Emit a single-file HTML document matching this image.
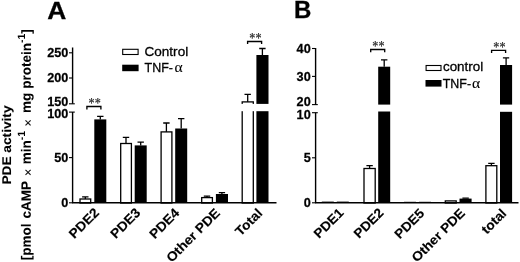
<!DOCTYPE html><html><head><meta charset="utf-8"><title>PDE activity</title>
<style>html,body{margin:0;padding:0;background:#fff}svg{display:block;filter:blur(0.32px)}text{font-family:"Liberation Sans", Arial, Helvetica, sans-serif;fill:#000;stroke:#000;stroke-width:0.3px}.b{font-weight:bold;stroke-width:0.1px}</style></head><body>
<svg width="520" height="262" viewBox="0 0 520 262">
<rect width="520" height="262" fill="#fff"/>
<path d="M85.3 199.0V196.9M82.1 196.9H88.5" stroke="#000" stroke-width="1.30" fill="none"/><rect x="80.0" y="199.0" width="10.7" height="4.0" fill="#fff" stroke="#000" stroke-width="1.30"/>
<path d="M100.3 119.4V116.3M97.1 116.3H103.5" stroke="#000" stroke-width="1.30" fill="none"/><rect x="94.3" y="119.4" width="12.0" height="83.6" fill="#000"/>
<path d="M126.0 143.5V137.4M122.8 137.4H129.2" stroke="#000" stroke-width="1.30" fill="none"/><rect x="120.7" y="143.5" width="10.7" height="59.5" fill="#fff" stroke="#000" stroke-width="1.30"/>
<path d="M140.7 145.4V142.1M137.5 142.1H143.9" stroke="#000" stroke-width="1.30" fill="none"/><rect x="134.7" y="145.4" width="12.0" height="57.6" fill="#000"/>
<path d="M166.4 131.9V123.0M163.2 123.0H169.6" stroke="#000" stroke-width="1.30" fill="none"/><rect x="161.1" y="131.9" width="10.8" height="71.1" fill="#fff" stroke="#000" stroke-width="1.30"/>
<path d="M181.2 128.5V118.7M178.0 118.7H184.4" stroke="#000" stroke-width="1.30" fill="none"/><rect x="175.2" y="128.5" width="12.0" height="74.5" fill="#000"/>
<path d="M207.0 197.6V196.2M203.8 196.2H210.2" stroke="#000" stroke-width="1.30" fill="none"/><rect x="201.7" y="197.6" width="10.7" height="5.4" fill="#fff" stroke="#000" stroke-width="1.30"/>
<path d="M221.9 194.0V192.6M218.8 192.6H225.1" stroke="#000" stroke-width="1.30" fill="none"/><rect x="215.9" y="194.0" width="12.1" height="9.0" fill="#000"/>
<path d="M247.7 101.9V94.4M244.5 94.4H250.9" stroke="#000" stroke-width="1.30" fill="none"/><rect x="242.2" y="101.9" width="11.1" height="101.1" fill="#fff" stroke="#000" stroke-width="1.30"/><rect x="240.5" y="103.9" width="14.4" height="7.3" fill="#fff"/>
<path d="M262.4 55.0V48.5M259.2 48.5H265.6" stroke="#000" stroke-width="1.30" fill="none"/><rect x="256.4" y="55.0" width="12.1" height="148.0" fill="#000"/><rect x="255.4" y="103.9" width="14.1" height="7.3" fill="#fff"/>
<path d="M72.6 47.5V103.8M72.6 112.1V203.0" stroke="#000" stroke-width="1.4" fill="none"/>
<path d="M72.0 202.8H276.5" stroke="#000" stroke-width="1.5" fill="none"/>
<path d="M69.0 52.8H72.6" stroke="#000" stroke-width="1.1"/>
<text class="b" transform="translate(68.3 57.1) scale(0.95 1)" font-size="13.33" text-anchor="end" style="stroke-width:0.25px">250</text>
<path d="M69.0 78.0H72.6" stroke="#000" stroke-width="1.1"/>
<text class="b" transform="translate(68.3 82.2) scale(0.95 1)" font-size="13.33" text-anchor="end" style="stroke-width:0.25px">200</text>
<path d="M69.0 103.8H74.8" stroke="#000" stroke-width="1.1"/>
<text class="b" transform="translate(68.3 105.9) scale(0.95 1)" font-size="13.33" text-anchor="end" style="stroke-width:0.25px">150</text>
<path d="M69.0 112.1H74.8" stroke="#000" stroke-width="1.1"/>
<text class="b" transform="translate(68.3 118.1) scale(0.95 1)" font-size="13.33" text-anchor="end" style="stroke-width:0.25px">100</text>
<path d="M69.0 157.6H72.6" stroke="#000" stroke-width="1.1"/>
<text class="b" transform="translate(68.3 161.7) scale(0.95 1)" font-size="13.33" text-anchor="end" style="stroke-width:0.25px">50</text>
<path d="M69.0 202.8H72.6" stroke="#000" stroke-width="1.1"/>
<text class="b" transform="translate(68.3 207.1) scale(0.95 1)" font-size="13.33" text-anchor="end" style="stroke-width:0.25px">0</text>
<rect x="321.8" y="201.6" width="12.0" height="1.4" fill="#000"/>
<rect x="336.8" y="201.6" width="12.0" height="1.4" fill="#000"/>
<path d="M369.6 168.5V165.7M366.4 165.7H372.8" stroke="#000" stroke-width="1.30" fill="none"/><rect x="364.0" y="168.5" width="11.2" height="34.5" fill="#fff" stroke="#000" stroke-width="1.30"/>
<path d="M384.2 66.7V59.9M381.0 59.9H387.4" stroke="#000" stroke-width="1.30" fill="none"/><rect x="378.2" y="66.7" width="12.0" height="136.3" fill="#000"/><rect x="377.2" y="104.6" width="14.0" height="6.9" fill="#fff"/>
<rect x="404.0" y="201.8" width="12.0" height="1.2" fill="#000"/>
<rect x="419.0" y="201.8" width="12.0" height="1.2" fill="#000"/>
<rect x="445.3" y="200.9" width="10.9" height="2.1" fill="#fff" stroke="#000" stroke-width="1.30"/>
<path d="M465.6 198.6V198.1M462.4 198.1H468.8" stroke="#000" stroke-width="1.30" fill="none"/><rect x="459.5" y="198.6" width="12.1" height="4.4" fill="#000"/>
<path d="M491.4 165.7V163.4M488.2 163.4H494.6" stroke="#000" stroke-width="1.30" fill="none"/><rect x="485.9" y="165.7" width="10.9" height="37.3" fill="#fff" stroke="#000" stroke-width="1.30"/>
<path d="M506.1 65.0V57.9M502.9 57.9H509.2" stroke="#000" stroke-width="1.30" fill="none"/><rect x="500.0" y="65.0" width="12.1" height="138.0" fill="#000"/><rect x="499.0" y="104.6" width="14.1" height="7.2" fill="#fff"/>
<path d="M315.6 48.0V104.6M315.6 112.7V203.0" stroke="#000" stroke-width="1.4" fill="none"/>
<path d="M315.0 202.8H518.5" stroke="#000" stroke-width="1.5" fill="none"/>
<path d="M312.0 48.5H315.6" stroke="#000" stroke-width="1.1"/>
<text class="b" transform="translate(310.7 53.3) scale(0.95 1)" font-size="13.33" text-anchor="end" style="stroke-width:0.25px">40</text>
<path d="M312.0 76.4H315.6" stroke="#000" stroke-width="1.1"/>
<text class="b" transform="translate(310.7 80.7) scale(0.95 1)" font-size="13.33" text-anchor="end" style="stroke-width:0.25px">30</text>
<path d="M312.0 104.6H317.8" stroke="#000" stroke-width="1.1"/>
<text class="b" transform="translate(310.7 106.2) scale(0.95 1)" font-size="13.33" text-anchor="end" style="stroke-width:0.25px">20</text>
<path d="M312.0 112.7H317.8" stroke="#000" stroke-width="1.1"/>
<text class="b" transform="translate(310.7 118.7) scale(0.95 1)" font-size="13.33" text-anchor="end" style="stroke-width:0.25px">10</text>
<path d="M312.0 157.8H315.6" stroke="#000" stroke-width="1.1"/>
<text class="b" transform="translate(310.7 162.1) scale(0.95 1)" font-size="13.33" text-anchor="end" style="stroke-width:0.25px">5</text>
<path d="M312.0 202.8H315.6" stroke="#000" stroke-width="1.1"/>
<text class="b" transform="translate(310.7 207.1) scale(0.95 1)" font-size="13.33" text-anchor="end" style="stroke-width:0.25px">0</text>
<path d="M86.9 109.6V106.5H100.9V109.6" stroke="#000" stroke-width="1.35" fill="none"/>
<text transform="translate(94.8 108.2) scale(0.95 1.1)" font-size="12.8" letter-spacing="0.3" text-anchor="middle" style="font-family:'Liberation Serif',serif;fill:#222;stroke:#222;stroke-width:0.2px">**</text>
<path d="M247.6 44.0V41.5H261.6V44.0" stroke="#000" stroke-width="1.35" fill="none"/>
<text transform="translate(255.5 43.2) scale(0.95 1.1)" font-size="12.8" letter-spacing="0.3" text-anchor="middle" style="font-family:'Liberation Serif',serif;fill:#222;stroke:#222;stroke-width:0.2px">**</text>
<path d="M370.7 52.3V49.5H384.7V52.3" stroke="#000" stroke-width="1.35" fill="none"/>
<text transform="translate(378.6 51.2) scale(0.95 1.1)" font-size="12.8" letter-spacing="0.3" text-anchor="middle" style="font-family:'Liberation Serif',serif;fill:#222;stroke:#222;stroke-width:0.2px">**</text>
<path d="M491.6 53.0V50.3H505.6V53.0" stroke="#000" stroke-width="1.35" fill="none"/>
<text transform="translate(499.5 52.0) scale(0.95 1.1)" font-size="12.8" letter-spacing="0.3" text-anchor="middle" style="font-family:'Liberation Serif',serif;fill:#222;stroke:#222;stroke-width:0.2px">**</text>
<text class="b" transform="translate(56.7 18.7) scale(1.1 1)" text-anchor="middle" font-size="24" style="stroke-width:0.3px">A</text>
<text class="b" x="294.0" y="17.9" font-size="24" style="stroke-width:0.3px">B</text>
<rect x="122.7" y="49.3" width="15.4" height="5.2" fill="#fff" stroke="#000" stroke-width="1.1"/>
<rect x="122.2" y="64.7" width="16.4" height="6.5" fill="#000"/>
<text x="144.5" y="56.3" font-size="13.55">Control</text>
<text transform="translate(144.6 72.0) scale(0.93 1)" font-size="13.4">TNF-</text>
<text x="174.6" y="72.0" font-size="15.5" style="font-family:'Liberation Serif',serif;stroke-width:0.1px">α</text>
<rect x="426.1" y="65.5" width="14.9" height="5.0" fill="#fff" stroke="#000" stroke-width="1.1"/>
<rect x="425.5" y="80.0" width="16.0" height="6.6" fill="#000"/>
<text x="442.9" y="71.4" font-size="13.4" letter-spacing="0.04">control</text>
<text transform="translate(442.7 87.5) scale(0.93 1)" font-size="13.4">TNF-</text>
<text x="472.0" y="87.5" font-size="15.5" style="font-family:'Liberation Serif',serif;stroke-width:0.1px">α</text>
<text class="b" transform="translate(10.9 184.6) rotate(-89.95) scale(1 0.92)" font-size="13.7">PDE activity</text>
<text class="b" transform="translate(30.7 260.2) rotate(-89.95)" font-size="13.5">[pmol <tspan dx="1.2">cAMP </tspan><tspan font-weight="normal" font-size="12.6" dy="1.5" dx="1.60" style="stroke-width:0.12px">×</tspan><tspan dy="-1.5" dx="0.53"> min</tspan><tspan font-size="10.5" dy="-5.8" dx="0.00" style="stroke-width:0">-1</tspan><tspan dy="5.8"> </tspan><tspan font-weight="normal" font-size="12.6" dy="1.5" dx="0.55" style="stroke-width:0.12px">×</tspan><tspan dy="-1.5" dx="2.58"> mg </tspan><tspan dx="0.20" >protein</tspan><tspan font-size="10.5" dy="-5.8" dx="-0.05" style="stroke-width:0">-1</tspan><tspan dy="5.8" dx="-0.05">]</tspan></text>
<text class="b" transform="translate(99.9 213.6) rotate(-45) scale(1 0.95)" font-size="13.9" text-anchor="end" style="stroke-width:0.15px">PDE2</text>
<text class="b" transform="translate(141.3 213.6) rotate(-45) scale(1 0.95)" font-size="13.9" text-anchor="end" style="stroke-width:0.15px">PDE3</text>
<text class="b" transform="translate(180.3 213.8) rotate(-45) scale(1 0.95)" font-size="13.9" text-anchor="end" style="stroke-width:0.15px">PDE4</text>
<text class="b" transform="translate(220.8 213.9) rotate(-45) scale(1 0.95)" font-size="13.9" text-anchor="end" style="stroke-width:0.15px">Other PDE</text>
<text class="b" transform="translate(263.3 214.0) rotate(-45) scale(1 0.95)" font-size="13.9" text-anchor="end" style="stroke-width:0.15px">Total</text>
<text class="b" transform="translate(344.5 213.5) rotate(-45) scale(1 0.95)" font-size="13.8" text-anchor="end" style="stroke-width:0.15px">PDE1</text>
<text class="b" transform="translate(384.5 213.6) rotate(-45) scale(1 0.95)" font-size="13.8" text-anchor="end" style="stroke-width:0.15px">PDE2</text>
<text class="b" transform="translate(425.1 214.0) rotate(-45) scale(1 0.95)" font-size="13.8" text-anchor="end" style="stroke-width:0.15px">PDE5</text>
<text class="b" transform="translate(465.8 214.0) rotate(-45) scale(1 0.95)" font-size="13.8" text-anchor="end" style="stroke-width:0.15px">Other PDE</text>
<text class="b" transform="translate(507.3 214.2) rotate(-45) scale(1 0.95)" font-size="13.8" text-anchor="end" style="stroke-width:0.15px">total</text>
</svg></body></html>
